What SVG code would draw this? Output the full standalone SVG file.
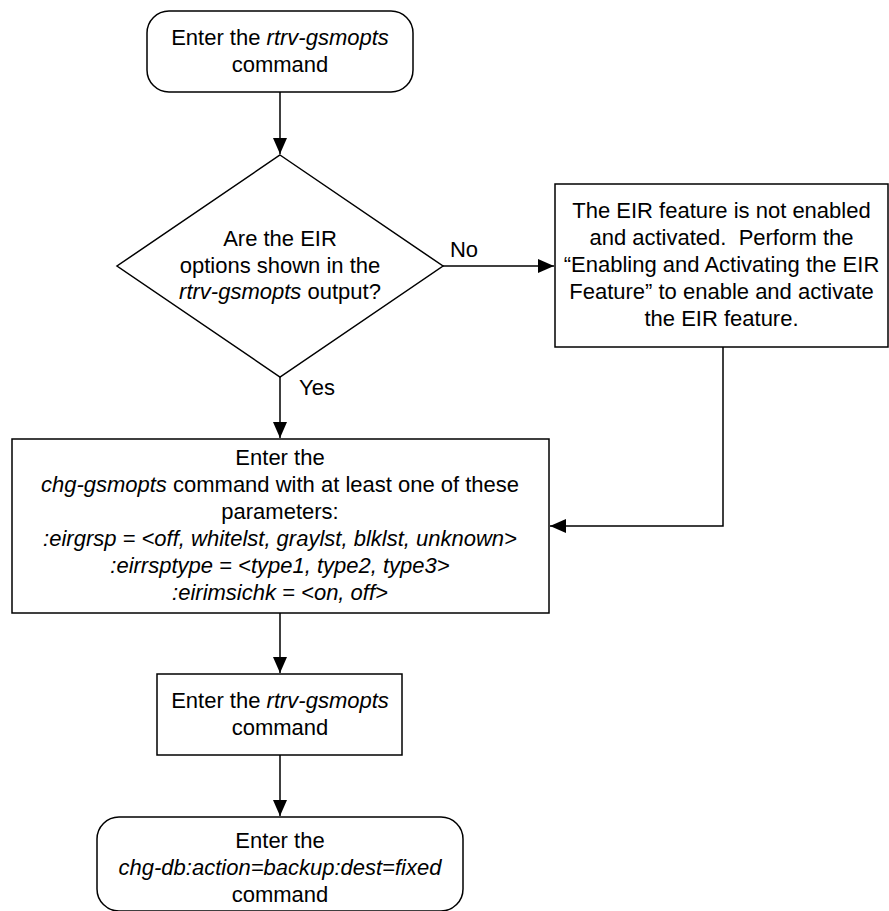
<svg xmlns="http://www.w3.org/2000/svg" width="889" height="911" viewBox="0 0 889 911">
<style>
.s{fill:#fff;stroke:#000;stroke-width:1.5}
.t{font-family:"Liberation Sans",Arial,sans-serif;font-size:22px;fill:#000;text-anchor:middle}
.i{font-style:italic}
.c{fill:none;stroke:#000;stroke-width:1.5}
</style>
<defs>
<marker id="a" markerWidth="16" markerHeight="16" viewBox="0 0 16 16" refX="16" refY="8" orient="auto" markerUnits="userSpaceOnUse">
<path d="M0,1 L16,8 L0,15 Z" fill="#000"/>
</marker>
</defs>
<g id="connectors">
<path class="c" d="M280,92 V154" marker-end="url(#a)"/>
<path class="c" d="M443,266 H554" marker-end="url(#a)"/>
<path class="c" d="M280,377 V438" marker-end="url(#a)"/>
<path class="c" d="M723,347 V526 H550" marker-end="url(#a)"/>
<path class="c" d="M280,613 V673" marker-end="url(#a)"/>
<path class="c" d="M280,755 V816" marker-end="url(#a)"/>
<text class="t" x="464" y="257">No</text>
<text class="t" x="317" y="395">Yes</text>
</g>
<g id="start">
<rect class="s" x="147" y="11" width="266" height="81" rx="22"/>
<text class="t" x="280" y="45">Enter the <tspan class="i">rtrv-gsmopts</tspan></text>
<text class="t" x="280" y="72">command</text>
</g>
<g id="decision">
<polygon class="s" points="280,155 443,266 280,377 117,266"/>
<text class="t" x="280" y="246">Are the EIR</text>
<text class="t" x="280" y="273">options shown in the</text>
<text class="t" x="280" y="299"><tspan class="i">rtrv-gsmopts</tspan> output?</text>
</g>
<g id="enable">
<rect class="s" x="555" y="184" width="333" height="163"/>
<text class="t" x="721.5" y="218">The EIR feature is not enabled</text>
<text class="t" x="721.5" y="245">and activated.&#160; Perform the</text>
<text class="t" x="721.5" y="272">“Enabling and Activating the EIR</text>
<text class="t" x="721.5" y="299">Feature” to enable and activate</text>
<text class="t" x="721.5" y="326">the EIR feature.</text>
</g>
<g id="chg">
<rect class="s" x="12" y="439" width="537" height="174"/>
<text class="t" x="280" y="465">Enter the</text>
<text class="t" x="280" y="492"><tspan class="i">chg-gsmopts</tspan> command with at least one of these</text>
<text class="t" x="280" y="519">parameters:</text>
<text class="t i" x="280" y="546">:eirgrsp = &lt;off, whitelst, graylst, blklst, unknown&gt;</text>
<text class="t i" x="280" y="573">:eirrsptype = &lt;type1, type2, type3&gt;</text>
<text class="t i" x="280" y="600">:eirimsichk = &lt;on, off&gt;</text>
</g>
<g id="rtrv">
<rect class="s" x="157" y="674" width="245" height="81"/>
<text class="t" x="280" y="708">Enter the <tspan class="i">rtrv-gsmopts</tspan></text>
<text class="t" x="280" y="735">command</text>
</g>
<g id="end">
<rect class="s" x="97" y="817" width="366" height="94" rx="22"/>
<text class="t" x="280" y="848">Enter the</text>
<text class="t i" x="280" y="875">chg-db:action=backup:dest=fixed</text>
<text class="t" x="280" y="902">command</text>
</g>
</svg>
